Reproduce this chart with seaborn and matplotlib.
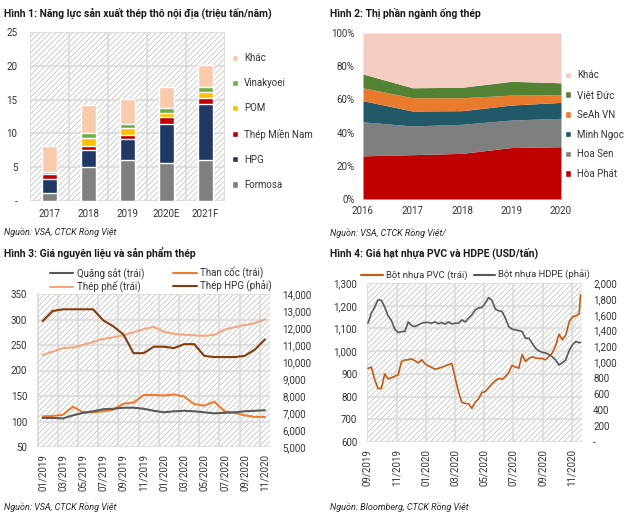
import numpy as np
import pandas as pd
import matplotlib
matplotlib.use("Agg")
import matplotlib.pyplot as plt
from matplotlib.patches import Rectangle, Patch
from matplotlib.lines import Line2D
from matplotlib.ticker import FuncFormatter
import seaborn as sns

# --- Hình 1: năng lực sản xuất thép thô (triệu tấn/năm) ---
nam1 = ['2017', '2018', '2019', '2020E', '2021F']
formosa = [1.15, 5.0, 6.0, 5.6, 6.1]
hpg = [2.15, 2.6, 3.1, 5.8, 8.3]
thep_mien_nam = [0.65, 0.6, 0.65, 1.0, 0.9]
pom = [0.0, 1.05, 1.0, 0.65, 0.8]
vinakyoei = [0.35, 0.85, 0.65, 0.75, 0.8]
khac1 = [3.8, 4.1, 3.7, 3.1, 3.2]

# --- Hình 2: thị phần ngành ống thép (%) ---
nam2 = [2016, 2017, 2018, 2019, 2020]
hoa_phat = [26.0, 26.7, 27.5, 31.0, 31.5]
hoa_sen = [20.5, 17.3, 17.5, 16.6, 17.1]
minh_ngoc = [12.7, 9.0, 8.2, 9.0, 9.6]
seah_vn = [7.8, 8.0, 7.8, 6.0, 4.6]
viet_duc = [8.3, 6.0, 6.3, 8.3, 7.2]
khac2 = [24.7, 33.0, 32.7, 29.1, 30.0]

# --- Hình 3: giá nguyên liệu và sản phẩm thép (theo tháng) ---
thang3 = ['01/2019', '02/2019', '03/2019', '04/2019', '05/2019', '06/2019',
          '07/2019', '08/2019', '09/2019', '10/2019', '11/2019', '12/2019',
          '01/2020', '02/2020', '03/2020', '04/2020', '05/2020', '06/2020',
          '07/2020', '08/2020', '09/2020', '10/2020', '11/2020']
quang_sat = [107, 107, 106, 112, 117, 120, 124, 125, 127, 127, 125, 121,
             118, 120, 121, 120, 118, 116, 117, 118, 120, 121, 122]
than_coc = [110, 111, 113, 129, 118, 118, 120, 123, 135, 137, 152, 152,
            151, 153, 149, 134, 131, 139, 120, 117, 112, 109, 109]
thep_phe = [230, 237, 244, 245, 250, 256, 262, 265, 269, 275, 281, 285.5,
            276, 272, 270, 269, 268, 270, 280, 285, 289, 293, 300]
thep_hpg = [12400, 13000, 13100, 13100, 13100, 13100, 12450, 12100, 11620,
            10520, 10520, 10900, 10900, 10820, 11050, 11050, 10360, 10290,
            10290, 10290, 10360, 10730, 11330]

# --- Hình 4: giá hạt nhựa PVC và HDPE (USD/tấn), theo tuần ---
ngay4 = list(pd.date_range('2019-09-02', periods=64, freq='7D')) + [pd.Timestamp('2020-11-19')]
pvc = [924, 930, 875, 835, 836, 900, 878, 882, 890, 895, 954, 961, 962, 966,
       958, 948, 962, 945, 935, 929, 920, 924, 929, 935, 940, 946, 885, 821,
       775, 770, 768, 748, 775, 790, 818, 822, 840, 856, 870, 880, 876, 888,
       905, 938, 930, 925, 985, 955, 968, 975, 970, 968, 968, 962, 978, 992,
       1025, 1075, 1050, 1070, 1128, 1150, 1155, 1165, 1248]
hdpe = [1494, 1620, 1696, 1789, 1781, 1696, 1587, 1528, 1419, 1377, 1389, 1389,
        1510, 1465, 1452, 1473, 1494, 1503, 1503, 1494, 1511, 1486, 1503, 1482,
        1511, 1486, 1494, 1494, 1536, 1511, 1558, 1600, 1660, 1688, 1692, 1747,
        1818, 1781, 1671, 1650, 1642, 1558, 1452, 1419, 1410, 1402, 1389, 1305,
        1305, 1242, 1179, 1145, 1128, 1120, 1099, 1073, 1031, 968, 998, 1031,
        1149, 1221, 1263, 1250, 1250]
nhan4 = ['09/2019', '11/2019', '01/2020', '03/2020', '05/2020', '07/2020', '09/2020', '11/2020']

sns.set_theme(style="white")
plt.rcParams['font.family'] = ['Roboto', 'DejaVu Sans']
plt.rcParams['hatch.linewidth'] = 0.6

W, H = 640, 519
fig = plt.figure(figsize=(W / 100, H / 100), dpi=100)
TXT = '#333333'
LUOI = '#D9D9D9'


def fx(x):
    return x / W


def fy(y):
    return 1 - y / H


def add_ax(x0, y0, x1, y1):
    return fig.add_axes([x0 / W, 1 - y1 / H, (x1 - x0) / W, (y1 - y0) / H])


def nen_gach(ax):
    ax.add_patch(Rectangle((0, 0), 1, 1, transform=ax.transAxes, facecolor='white',
                           edgecolor='#C4C4C4', hatch='//////', lw=0, zorder=0.1))


def bo_khung(ax):
    for s in ax.spines.values():
        s.set_visible(False)
    ax.set_xlabel('')
    ax.set_ylabel('')


# ---------- Hình 1 ----------
ax1 = add_ax(30, 32, 225, 201)
nen_gach(ax1)
df1 = pd.DataFrame({'Năm': nam1, 'Formosa': formosa, 'HPG': hpg,
                    'Thép Miền Nam': thep_mien_nam, 'POM': pom,
                    'Vinakyoei': vinakyoei, 'Khác': khac1})
lop = ['Formosa', 'HPG', 'Thép Miền Nam', 'POM', 'Vinakyoei', 'Khác']
mau1 = {'Formosa': '#808080', 'HPG': '#1F3864', 'Thép Miền Nam': '#C00000',
        'POM': '#FFC000', 'Vinakyoei': '#70AD47', 'Khác': '#F8CBAD'}
cong_don = df1[lop].cumsum(axis=1)
for ten in reversed(lop):
    sns.barplot(x=df1['Năm'], y=cong_don[ten], color=mau1[ten], width=0.4,
                saturation=1, errorbar=None, ax=ax1, zorder=2)
ax1.set_ylim(0, 25)
ax1.set_xlim(-0.5, 4.5)
ax1.set_yticks(range(0, 26, 5))
ax1.yaxis.set_major_formatter(FuncFormatter(lambda v, p: '-' if v == 0 else f'{v:.0f}'))
ax1.set_xticks(np.arange(-0.5, 5, 1), minor=True)
ax1.grid(which='major', axis='y', color=LUOI, lw=1.1, zorder=0.5)
ax1.grid(which='minor', axis='x', color=LUOI, lw=1.1, zorder=0.5)
ax1.tick_params(which='both', length=0, labelsize=7, colors=TXT)
ax1.tick_params(axis='y', pad=9)
ax1.tick_params(axis='x', pad=6)
bo_khung(ax1)
fig.legend(handles=[Patch(facecolor=mau1[t], label=t) for t in reversed(lop)],
           loc='center left', bbox_to_anchor=(fx(232), fy(121.5)), frameon=False,
           fontsize=7, labelcolor=TXT, handlelength=0.65, handleheight=0.65,
           handletextpad=0.6, labelspacing=1.55, borderpad=0, borderaxespad=0)

# ---------- Hình 2 ----------
ax2 = add_ax(363, 33, 561, 199)
mau2 = ['#C00000', '#7F7F7F', '#215968', '#E87B2E', '#548235', '#F4CCC1']
ten2 = ['Hòa Phát', 'Hoa Sen', 'Minh Ngọc', 'SeAh VN', 'Việt Đức', 'Khác']
ax2.stackplot(nam2, hoa_phat, hoa_sen, minh_ngoc, seah_vn, viet_duc, khac2,
              colors=mau2, labels=ten2, lw=0)
ax2.set_xlim(2016, 2020)
ax2.set_ylim(0, 100)
ax2.set_xticks(nam2)
ax2.set_yticks(range(0, 101, 20))
ax2.yaxis.set_major_formatter(FuncFormatter(lambda v, p: f'{v:.0f}%'))
ax2.tick_params(length=0, labelsize=7, colors=TXT)
ax2.tick_params(axis='y', pad=6)
ax2.tick_params(axis='x', pad=5)
bo_khung(ax2)
fig.legend(handles=[Patch(facecolor=c, label=t) for c, t in zip(mau2[::-1], ten2[::-1])],
           loc='center left', bbox_to_anchor=(fx(565), fy(124.7)), frameon=False,
           fontsize=7, labelcolor=TXT, handlelength=0.65, handleheight=0.65,
           handletextpad=0.6, labelspacing=1.0, borderpad=0, borderaxespad=0)

# ---------- Hình 3 ----------
ax3 = add_ax(37, 294, 270, 447)
nen_gach(ax3)
x3 = np.arange(len(thang3))
sns.lineplot(x=x3, y=thep_phe, color='#F4A77F', lw=1.5, ax=ax3, zorder=3)
sns.lineplot(x=x3, y=than_coc, color='#ED7D31', lw=1.5, ax=ax3, zorder=3)
sns.lineplot(x=x3, y=quang_sat, color='#595959', lw=1.5, ax=ax3, zorder=3)
ax3.set_ylim(50, 350)
ax3.set_xlim(-0.55, 22.5)
ax3.set_yticks(range(50, 351, 50))
ax3.set_xticks(x3[::2])
ax3.set_xticklabels(thang3[::2], rotation=90)
ax3.set_xticks(np.arange(-0.5, 22, 2), minor=True)
ax3.grid(which='major', axis='y', color=LUOI, lw=1.1)
ax3.grid(which='minor', axis='x', color=LUOI, lw=1.1)
ax3.set_axisbelow(True)
ax3.tick_params(which='both', length=0, labelsize=7, colors=TXT)
ax3.tick_params(axis='y', pad=7)
ax3.tick_params(axis='x', pad=5)
bo_khung(ax3)
ax3r = ax3.twinx()
sns.lineplot(x=x3, y=thep_hpg, color='#843C0C', lw=1.5, ax=ax3r)
ax3r.set_ylim(5000, 14000)
ax3r.set_yticks(range(5000, 14001, 1000))
ax3r.yaxis.set_major_formatter(FuncFormatter(lambda v, p: f'{v:,.0f}'))
ax3r.tick_params(length=0, labelsize=7, colors=TXT, pad=9)
ax3r.grid(False)
bo_khung(ax3r)
fig.legend(handles=[Line2D([], [], color='#595959', lw=1.5, label='Quặng sắt (trái)'),
                    Line2D([], [], color='#F4A77F', lw=1.5, label='Thép phế (trái)'),
                    Line2D([], [], color='#ED7D31', lw=1.5, label='Than cốc (trái)'),
                    Line2D([], [], color='#843C0C', lw=1.5, label='Thép HPG (phải)')],
           ncol=2, loc='upper left', bbox_to_anchor=(fx(50), fy(267)), frameon=False,
           fontsize=7, labelcolor=TXT, handlelength=2.4, handletextpad=0.35,
           columnspacing=3.0, labelspacing=0.15, borderpad=0, borderaxespad=0)

# ---------- Hình 4 ----------
ax4 = add_ax(367, 283, 582, 442)
nen_gach(ax4)
sns.lineplot(x=ngay4, y=pvc, color='#C55A11', lw=1.2, ax=ax4, zorder=3)
ax4.set_ylim(600, 1300)
ax4.set_yticks(range(600, 1301, 100))
ax4.yaxis.set_major_formatter(FuncFormatter(lambda v, p: f'{v:,.0f}'))
moc4 = pd.to_datetime(nhan4, format='%m/%Y')
ax4.set_xticks(moc4)
ax4.set_xticklabels(nhan4, rotation=90)
ax4.set_xlim(pd.Timestamp('2019-08-31'), pd.Timestamp('2020-11-22'))
ax4.grid(which='major', color=LUOI, lw=1.1)
ax4.set_axisbelow(True)
ax4.tick_params(length=0, labelsize=7, colors=TXT)
ax4.tick_params(axis='y', pad=7)
ax4.tick_params(axis='x', pad=5)
bo_khung(ax4)
ax4r = ax4.twinx()
sns.lineplot(x=ngay4, y=hdpe, color='#595959', lw=1.2, ax=ax4r)
ax4r.set_ylim(0, 2000)
ax4r.set_yticks(range(0, 2001, 200))
ax4r.yaxis.set_major_formatter(FuncFormatter(lambda v, p: '-' if v == 0 else f'{v:,.0f}'))
ax4r.tick_params(length=0, labelsize=7, colors=TXT, pad=8)
ax4r.grid(False)
ax4r.set_xlim(pd.Timestamp('2019-08-31'), pd.Timestamp('2020-11-22'))
bo_khung(ax4r)
fig.legend(handles=[Line2D([], [], color='#C55A11', lw=1.5, label='Bột nhựa PVC (trái)'),
                    Line2D([], [], color='#595959', lw=1.5, label='Bột nhựa HDPE (phải)')],
           ncol=2, loc='center left', bbox_to_anchor=(fx(361), fy(275)), frameon=False,
           fontsize=6.8, labelcolor=TXT, handlelength=2.3, handletextpad=0.3,
           columnspacing=0.7, borderpad=0, borderaxespad=0)

# ---------- tiêu đề và nguồn ----------
tieu_de = [(4, 13, 'Hình 1: Năng lực sản xuất thép thô nội địa (triệu tấn/năm)'),
           (330, 13, 'Hình 2: Thị phần ngành ống thép'),
           (4, 253, 'Hình 3: Giá nguyên liệu và sản phẩm thép'),
           (330, 253, 'Hình 4: Giá hạt nhựa PVC và HDPE (USD/tấn)')]
for x, y, t in tieu_de:
    fig.text(fx(x), fy(y), t, fontsize=7.5, fontweight='bold', color='#1A1A1A',
             ha='left', va='center')
nguon = [(4, 232, 'Nguồn: VSA, CTCK Rồng Việt'),
         (330, 233, 'Nguồn: VSA, CTCK Rồng Việt/'),
         (4, 507, 'Nguồn: VSA, CTCK Rồng Việt'),
         (330, 507, 'Nguồn: Bloomberg, CTCK Rồng Việt')]
for x, y, t in nguon:
    fig.text(fx(x), fy(y), t, fontsize=6.5, style='italic', color='#262626',
             ha='left', va='center')

fig.savefig('out.png', dpi=100)
